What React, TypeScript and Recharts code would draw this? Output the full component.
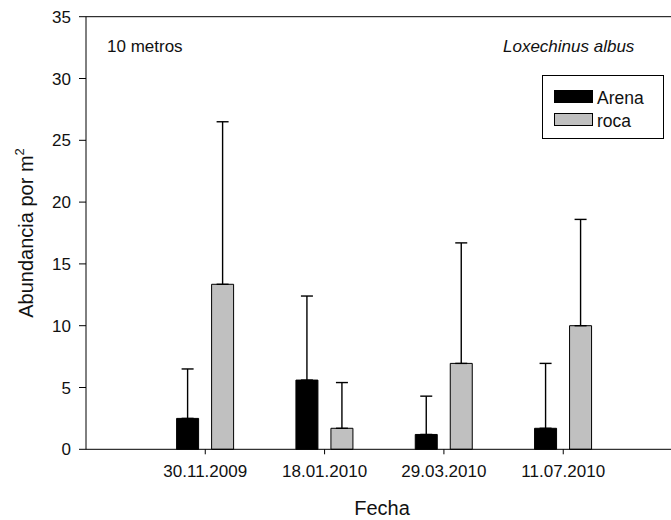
import React from 'react';
import { BarChart, Bar, XAxis, YAxis, ErrorBar, ReferenceLine, Customized } from 'recharts';

// Sampling dates (category axis)
const fechas = ['30.11.2009', '18.01.2010', '29.03.2010', '11.07.2010'];

// Mean abundance per m2 and the upper error (SD) for each substrate
const arena = [2.5, 5.6, 1.2, 1.7];
const arenaSd = [4.0, 6.8, 3.1, 5.25];
const roca = [13.35, 1.7, 6.95, 10.0];
const rocaSd = [13.15, 3.7, 9.75, 8.6];

const yTicks = [0, 5, 10, 15, 20, 25, 30, 35];

const series = [
    { key: 'arena', label: 'Arena', fill: '#000' },
    { key: 'roca', label: 'roca', fill: '#c0c0c0' },
];

const data = fechas.map((fecha, i) => ({
    fecha,
    arena: arena[i],
    roca: roca[i],
    // only the upper half of the error bar is drawn
    arenaErr: [0, arenaSd[i]],
    rocaErr: [0, rocaSd[i]],
}));

const FONT = 'Arial, "Liberation Sans", sans-serif';

// Legend box, site label, species name and axis titles
const Annotations = () => (
    <g fontFamily={FONT} fill="#111">
        <text x={107} y={52} fontSize={17}>10 metros</text>
        <text x={503} y={52} fontSize={17} fontStyle="italic">Loxechinus albus</text>
        <text x={382} y={515} fontSize={20} textAnchor="middle">Fecha</text>
        <text transform="translate(33, 233) rotate(-90)" fontSize={20} textAnchor="middle">
            Abundancia por m<tspan fontSize={13} dy={-9}>2</tspan>
        </text>

        <rect x={542.5} y={75.5} width={121} height={63} fill="#fff" stroke="#000" strokeWidth={1} />
        {series.map((s, i) => (
            <g key={s.key}>
                <rect x={554.5} y={90.5 + i * 23} width={38} height={12} fill={s.fill} stroke="#000" strokeWidth={1} />
                <text x={597} y={104 + i * 23} fontSize={17.5}>{s.label}</text>
            </g>
        ))}
    </g>
);

export default function App() {
    return (
        <div style={{ position: 'absolute', left: 0, top: 0, width: 671, height: 520, overflow: 'hidden', background: '#fff' }}>
            <BarChart
                width={671}
                height={520}
                data={data}
                margin={{ top: 16.7, right: 0, bottom: 0, left: 0 }}
                barSize={22}
                barGap={13}
            >
                <XAxis
                    dataKey="fecha"
                    height={70.7}
                    padding={{ left: 59.6, right: 48.1 }}
                    axisLine={{ stroke: '#000', strokeWidth: 1 }}
                    tickLine={{ stroke: '#000', strokeWidth: 1 }}
                    tickSize={5}
                    tickMargin={11}
                    tick={{ fill: '#111', fontSize: 17, fontFamily: FONT }}
                />
                <YAxis
                    domain={[0, 35]}
                    ticks={yTicks}
                    width={86}
                    axisLine={{ stroke: '#000', strokeWidth: 1 }}
                    tickLine={{ stroke: '#000', strokeWidth: 1 }}
                    tickSize={7}
                    tickMargin={8}
                    tick={{ fill: '#111', fontSize: 17, fontFamily: FONT }}
                />
                <ReferenceLine y={35} stroke="#000" strokeWidth={1} />
                <Bar dataKey="arena" fill="#000" stroke="#000" strokeWidth={1} isAnimationActive={false}>
                    <ErrorBar dataKey="arenaErr" direction="y" width={6} stroke="#000" strokeWidth={1.4} />
                </Bar>
                <Bar dataKey="roca" fill="#c0c0c0" stroke="#000" strokeWidth={1} isAnimationActive={false}>
                    <ErrorBar dataKey="rocaErr" direction="y" width={6} stroke="#000" strokeWidth={1.4} />
                </Bar>
                <Customized component={Annotations} />
            </BarChart>
        </div>
    );
}
